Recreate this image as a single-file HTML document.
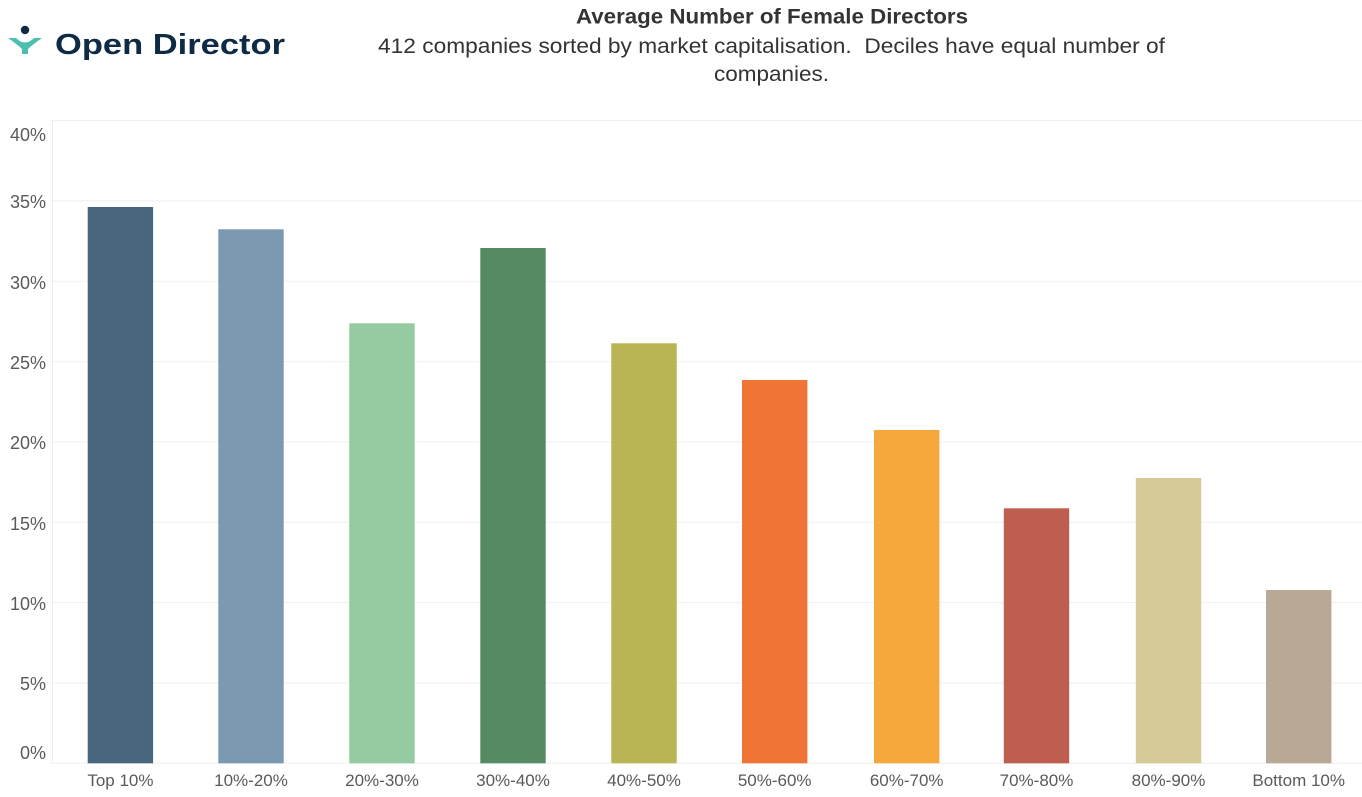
<!DOCTYPE html>
<html>
<head>
<meta charset="utf-8">
<style>
  html,body{margin:0;padding:0;background:#fff;}
  body{width:1362px;height:797px;overflow:hidden;}
  svg{display:block;}
</style>
</head>
<body>
<svg width="1362" height="797" viewBox="0 0 1362 797" xmlns="http://www.w3.org/2000/svg">
  <rect x="0" y="0" width="1362" height="797" fill="#ffffff"/>

  <!-- Logo -->
  <circle cx="25" cy="30" r="4.2" fill="#0f2a44"/>
  <path d="M8 38 L16 38 Q25 47 34 38 L42 38 Q32 45 28 49 L28 54 L22 54 L22 49 Q18 45 8 38 Z" fill="#4dbfae"/>
  <text x="55" y="54" font-family="'Liberation Sans', sans-serif" font-weight="bold" font-size="29" fill="#0f2a44" textLength="230" lengthAdjust="spacingAndGlyphs">Open Director</text>

  <!-- Titles -->
  <text x="576" y="23.5" font-family="'Liberation Sans', sans-serif" font-weight="bold" font-size="21" fill="#333333" textLength="392" lengthAdjust="spacingAndGlyphs">Average Number of Female Directors</text>
  <text x="378" y="53" xml:space="preserve" font-family="'Liberation Sans', sans-serif" font-size="21" fill="#333333" textLength="787" lengthAdjust="spacingAndGlyphs">412 companies sorted by market capitalisation.  Deciles have equal number of</text>
  <text x="714" y="81" font-family="'Liberation Sans', sans-serif" font-size="21" fill="#333333" textLength="115" lengthAdjust="spacingAndGlyphs">companies.</text>

  <!-- Gridlines -->
  <g stroke="#efefef" stroke-width="1">
    <line x1="50" y1="120.6" x2="1362" y2="120.6"/>
    <line x1="50" y1="200.9" x2="1362" y2="200.9"/>
    <line x1="50" y1="281.2" x2="1362" y2="281.2"/>
    <line x1="50" y1="361.6" x2="1362" y2="361.6"/>
    <line x1="50" y1="441.9" x2="1362" y2="441.9"/>
    <line x1="50" y1="522.3" x2="1362" y2="522.3"/>
    <line x1="50" y1="602.6" x2="1362" y2="602.6"/>
    <line x1="50" y1="683" x2="1362" y2="683"/>
    <line x1="50" y1="763.3" x2="1362" y2="763.3"/>
    <line x1="52.5" y1="120" x2="52.5" y2="764"/>
  </g>

  <!-- Y labels -->
  <g font-family="'Liberation Sans', sans-serif" font-size="18" fill="#5a5a5a" text-anchor="end">
    <text x="46" y="141">40%</text>
    <text x="46" y="208">35%</text>
    <text x="46" y="289">30%</text>
    <text x="46" y="369">25%</text>
    <text x="46" y="449">20%</text>
    <text x="46" y="530">15%</text>
    <text x="46" y="610">10%</text>
    <text x="46" y="690">5%</text>
    <text x="46" y="759">0%</text>
  </g>

  <!-- Bars -->
  <rect x="87.7" y="207" width="65.4" height="556.3" fill="#48677f"/>
  <rect x="218.3" y="229.3" width="65.4" height="534" fill="#7b99b0"/>
  <rect x="349.3" y="323.3" width="65.4" height="440" fill="#94cba0"/>
  <rect x="480.3" y="248" width="65.4" height="515.3" fill="#548b62"/>
  <rect x="611.3" y="343.3" width="65.4" height="420" fill="#b9b554"/>
  <rect x="742" y="380" width="65.4" height="383.3" fill="#f07436"/>
  <rect x="874" y="430" width="65.4" height="333.3" fill="#f6a83c"/>
  <rect x="1003.8" y="508.3" width="65.4" height="255" fill="#bd5e4f"/>
  <rect x="1135.8" y="478" width="65.4" height="285.3" fill="#d5ca98"/>
  <rect x="1266" y="590" width="65.4" height="173.3" fill="#b8a894"/>

  <!-- X labels -->
  <g font-family="'Liberation Sans', sans-serif" font-size="17" fill="#5a5a5a" text-anchor="middle">
    <text x="120.4" y="786">Top 10%</text>
    <text x="251" y="786">10%-20%</text>
    <text x="382" y="786">20%-30%</text>
    <text x="513" y="786">30%-40%</text>
    <text x="644" y="786">40%-50%</text>
    <text x="774.7" y="786">50%-60%</text>
    <text x="906.7" y="786">60%-70%</text>
    <text x="1036.5" y="786">70%-80%</text>
    <text x="1168.5" y="786">80%-90%</text>
    <text x="1298.7" y="786">Bottom 10%</text>
  </g>
</svg>
</body>
</html>
